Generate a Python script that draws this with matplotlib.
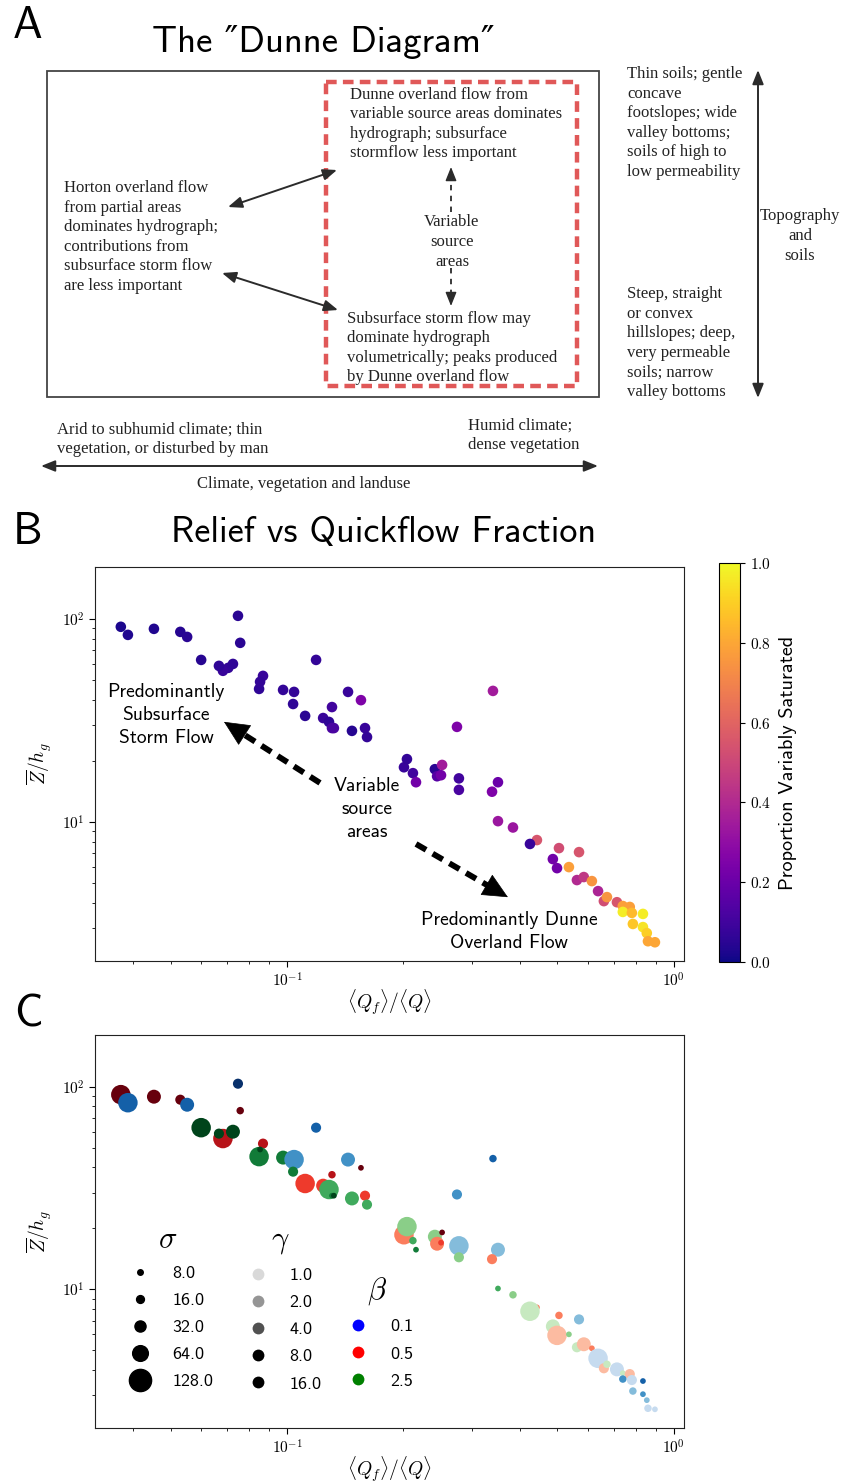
import numpy as np
import matplotlib
matplotlib.use("Agg")
import matplotlib.pyplot as plt
from matplotlib.patches import Rectangle
from matplotlib.lines import Line2D
from matplotlib.ticker import FuncFormatter, NullFormatter

plt.rcParams['font.family'] = ['cmss10', 'DejaVu Sans']
plt.rcParams['mathtext.fontset'] = 'cm'
plt.rcParams['axes.unicode_minus'] = False

# quickflow fraction <Qf>/<Q>
qf_ratio = [0.0372, 0.0388, 0.0453, 0.0530, 0.0552, 0.0747, 0.0757, 0.0600,
            0.0705, 0.0683, 0.0667, 0.0725, 0.0867, 0.0847, 0.0852, 0.0977,
            0.1043, 0.1037, 0.1189, 0.1114, 0.1240, 0.1284, 0.1307, 0.1322,
            0.1307, 0.1438, 0.1553, 0.1472, 0.1591, 0.1610, 0.3407, 0.2750,
            0.2006, 0.2042, 0.2116, 0.2155, 0.2411, 0.2517, 0.2443, 0.2501,
            0.2782, 0.2782, 0.3510, 0.3388, 0.3510, 0.3838, 0.4426, 0.4246,
            0.5046, 0.5686, 0.4866, 0.4988, 0.5354, 0.5615, 0.5850, 0.6138,
            0.6368, 0.6592, 0.6714, 0.7125, 0.7379, 0.7691, 0.7379, 0.7787,
            0.8318, 0.7834, 0.8318, 0.8511, 0.8570, 0.8933]
# relief Z/h_g
relief = [91.4, 83.4, 89.3, 86.3, 81.5, 103.5, 76.2, 62.8,
          57.4, 55.5, 58.7, 60.0, 52.4, 45.2, 49.0, 44.7,
          43.7, 38.1, 62.8, 33.3, 32.5, 31.1, 29.0, 29.0,
          36.8, 43.7, 39.8, 28.1, 29.0, 26.2, 44.2, 29.4,
          18.6, 20.4, 17.4, 15.7, 18.2, 19.1, 16.8, 17.0,
          16.4, 14.4, 15.7, 14.1, 10.1, 9.4, 8.15, 7.8,
          7.44, 7.11, 6.57, 5.93, 6.0, 5.18, 5.36, 5.12,
          4.57, 4.08, 4.27, 4.03, 3.86, 3.82, 3.61, 3.57,
          3.53, 3.15, 3.04, 2.84, 2.59, 2.56]
# proportion variably saturated
prop_sat = [0.02, 0.03, 0.03, 0.04, 0.05, 0.05, 0.05, 0.04,
            0.07, 0.08, 0.06, 0.06, 0.08, 0.06, 0.07, 0.07,
            0.07, 0.06, 0.07, 0.05, 0.08, 0.06, 0.12, 0.12,
            0.10, 0.08, 0.25, 0.04, 0.08, 0.07, 0.35, 0.25,
            0.08, 0.07, 0.10, 0.22, 0.05, 0.35, 0.15, 0.22,
            0.10, 0.12, 0.20, 0.25, 0.33, 0.33, 0.55, 0.08,
            0.52, 0.55, 0.22, 0.22, 0.78, 0.40, 0.45, 0.75,
            0.38, 0.52, 0.75, 0.55, 0.78, 0.78, 0.97, 0.85,
            0.97, 0.88, 0.95, 0.90, 0.80, 0.80]
sigma = [128, 128, 64, 32, 64, 32, 16, 128,
         32, 128, 32, 64, 32, 128, 8, 64,
         128, 32, 32, 128, 64, 128, 8, 8,
         16, 64, 8, 64, 32, 32, 16, 32,
         128, 128, 16, 8, 64, 8, 64, 8,
         128, 32, 64, 32, 8, 16, 8, 128,
         16, 32, 64, 128, 8, 32, 64, 8,
         128, 32, 16, 64, 8, 32, 16, 32,
         8, 16, 8, 8, 16, 8]
gamma = [16, 8, 16, 16, 8, 16, 16, 16,
         8, 8, 16, 16, 8, 8, 16, 8,
         4, 8, 8, 4, 4, 4, 8, 16,
         8, 4, 16, 4, 4, 4, 8, 4,
         2, 2, 4, 8, 2, 16, 2, 4,
         2, 2, 2, 2, 4, 2, 2, 1,
         2, 2, 1, 1, 2, 1, 1, 2,
         1, 1, 1, 1, 1, 1, 4, 1,
         8, 2, 4, 2, 1, 1]
beta = [0.5, 0.1, 0.5, 0.5, 0.1, 0.1, 0.5, 2.5,
        0.5, 0.5, 2.5, 2.5, 0.5, 2.5, 2.5, 2.5,
        0.1, 2.5, 0.1, 0.5, 0.5, 2.5, 2.5, 2.5,
        0.5, 0.1, 0.5, 2.5, 0.5, 2.5, 0.1, 0.1,
        0.5, 2.5, 2.5, 2.5, 2.5, 0.5, 0.5, 0.5,
        0.1, 2.5, 0.1, 0.5, 2.5, 2.5, 0.5, 2.5,
        0.5, 0.1, 2.5, 0.5, 2.5, 2.5, 0.5, 0.5,
        0.1, 0.5, 2.5, 0.1, 2.5, 0.5, 0.1, 0.1,
        0.1, 0.1, 0.1, 0.1, 0.1, 0.1]

sigma_levels = [8, 16, 32, 64, 128]
gamma_levels = [1, 2, 4, 8, 16]
beta_levels = [0.1, 0.5, 2.5]
beta_colors = ['blue', 'red', 'green']
beta_cmaps = {0.1: plt.cm.Blues, 0.5: plt.cm.Reds, 2.5: plt.cm.Greens}

W, H = 847, 1484
fig = plt.figure(figsize=(W / 100, H / 100), dpi=100)


def box(left, top, right, bottom):
    return [left / W, 1 - bottom / H, (right - left) / W, (bottom - top) / H]


# ---------------- panel A: the Dunne diagram ----------------
ax_a = fig.add_axes([0, 1 - 500 / H, 1, 500 / H])
ax_a.set_xlim(0, W)
ax_a.set_ylim(500, 0)
ax_a.axis('off')

serif = dict(family='Liberation Serif', fontsize=12, color='#222222', linespacing=1.3)
ax_a.add_patch(Rectangle((47, 71), 552, 326, fill=False, ec='#444444', lw=1.3))
ax_a.add_patch(Rectangle((326, 82), 251, 304, fill=False, ec='#e05858', lw=3.2,
                         ls=(0, (2.4, 1.4))))

ax_a.text(350, 124, "Dunne overland flow from\nvariable source areas dominates\n"
          "hydrograph; subsurface\nstormflow less important", va='center', **serif)
ax_a.text(452, 242, "Variable\nsource\nareas", ha='center', va='center',
          multialignment='center', **serif)
ax_a.text(347, 348, "Subsurface storm flow may\ndominate hydrograph\n"
          "volumetrically; peaks produced\nby Dunne overland flow", va='center', **serif)
ax_a.text(64, 237, "Horton overland flow\nfrom partial areas\ndominates hydrograph;\n"
          "contributions from\nsubsurface storm flow\nare less important", va='center', **serif)
ax_a.text(627, 123, "Thin soils; gentle\nconcave\nfootslopes; wide\nvalley bottoms;\n"
          "soils of high to\nlow permeability", va='center', **serif)
ax_a.text(800, 236, "Topography\nand\nsoils", ha='center', va='center',
          multialignment='center', **serif)
ax_a.text(627, 343, "Steep, straight\nor convex\nhillslopes; deep,\nvery permeable\n"
          "soils; narrow\nvalley bottoms", va='center', **serif)
ax_a.text(57, 439, "Arid to subhumid climate; thin\nvegetation, or disturbed by man",
          va='center', **serif)
ax_a.text(468, 435, "Humid climate;\ndense vegetation", va='center', **serif)
ax_a.text(304, 484, "Climate, vegetation and landuse", ha='center', va='center', **serif)

dbl = dict(arrowstyle='<|-|>,head_length=0.7,head_width=0.28', color='#2b2b2b', lw=1.4,
           mutation_scale=12, shrinkA=0, shrinkB=0)
for (x0, y0), (x1, y1) in [((228, 207), (337, 170)), ((222, 273), (338, 310)),
                           ((758, 70), (758, 398)), ((41, 466), (598, 466))]:
    ax_a.annotate('', xy=(x1, y1), xytext=(x0, y0), arrowprops=dbl)

# dashed arrows around "Variable source areas"
ax_a.plot([451, 451], [212, 176], color='#2b2b2b', lw=1.3, ls=(0, (3, 3)))
ax_a.plot([451, 451], [268, 297], color='#2b2b2b', lw=1.3, ls=(0, (3, 3)))
head = dict(arrowstyle='-|>,head_length=0.7,head_width=0.28', color='#2b2b2b', lw=1.0,
            mutation_scale=12, shrinkA=0, shrinkB=0)
ax_a.annotate('', xy=(451, 167), xytext=(451, 178), arrowprops=head)
ax_a.annotate('', xy=(451, 306), xytext=(451, 295), arrowprops=head)

fig.text(28 / W, 1 - 27 / H, 'A', fontsize=32, ha='center', va='center')
fig.text(323 / W, 1 - 42 / H, 'The \u2033Dunne Diagram\u2033', fontsize=26.5,
         ha='center', va='center')

# ---------------- panel B ----------------
xlim = (0.0319, 1.062)
ylim = (2.07, 180)
pow10 = FuncFormatter(lambda v, p: r'$10^{%d}$' % int(round(np.log10(v))))

ax_b = fig.add_axes(box(95, 567, 684, 961))
sc = ax_b.scatter(qf_ratio, relief, c=prop_sat, cmap='plasma', vmin=0, vmax=1,
                  s=58, linewidths=0)
ax_b.set_xscale('log')
ax_b.set_yscale('log')
ax_b.set_xlim(xlim)
ax_b.set_ylim(ylim)
ax_b.set_xlabel(r'$\langle Q_f\rangle/\langle Q\rangle$', fontsize=14, labelpad=-2)
ax_b.set_ylabel(r'$\overline{Z}/h_g$', fontsize=14, labelpad=6)

t_kw = dict(transform=ax_b.transAxes, ha='center', va='center', fontsize=14,
            multialignment='center', linespacing=1.35)
ax_b.text(0.121, 0.624, 'Predominantly\nSubsurface\nStorm Flow', **t_kw)
ax_b.text(0.462, 0.386, 'Variable\nsource\nareas', **t_kw)
ax_b.text(0.703, 0.076, 'Predominantly Dunne\nOverland Flow', **t_kw)


def dashed_arrow(ax, tail, tip):
    tail = np.array(tail)
    tip = np.array(tip)
    d = (tip - tail) / np.hypot(*(tip - tail))
    ax.plot([tail[0], tip[0] - 0.035 * d[0]], [tail[1], tip[1] - 0.035 * d[1]],
            transform=ax.transAxes, color='k', lw=4.2, ls=(0, (2.0, 1.3)),
            solid_capstyle='butt')
    ax.annotate('', xy=tip, xytext=tip - 0.01 * d, xycoords='axes fraction',
                arrowprops=dict(arrowstyle='-|>,head_length=0.85,head_width=0.4',
                                color='k', lw=0.5, mutation_scale=20,
                                shrinkA=0, shrinkB=0))


dashed_arrow(ax_b, (0.382, 0.452), (0.219, 0.607))
dashed_arrow(ax_b, (0.545, 0.297), (0.701, 0.162))

cax = fig.add_axes(box(719, 563, 740, 962))
cb = fig.colorbar(sc, cax=cax, ticks=[0, 0.2, 0.4, 0.6, 0.8, 1.0])
cb.ax.yaxis.set_major_formatter(FuncFormatter(lambda v, p: r'$%.1f$' % v))
cb.ax.tick_params(labelsize=11)
cb.set_label('Proportion Variably Saturated', fontsize=14.5, labelpad=6)

fig.text(28 / W, 1 - 533 / H, 'B', fontsize=32, ha='center', va='center')
fig.text(384 / W, 1 - 533 / H, 'Relief vs Quickflow Fraction', fontsize=26,
         ha='center', va='center')

# ---------------- panel C ----------------
ax_c = fig.add_axes(box(95, 1035, 684, 1428))
shade = np.clip(0.25 + 0.1875 * np.log2(gamma), 0, 1)
colors_c = [beta_cmaps[b](v) for b, v in zip(beta, shade)]
ax_c.scatter(qf_ratio, relief, c=colors_c, s=1.5 * np.array(sigma) + 5, linewidths=0)
ax_c.set_xscale('log')
ax_c.set_yscale('log')
ax_c.set_xlim(xlim)
ax_c.set_ylim(ylim)
ax_c.set_xlabel(r'$\langle Q_f\rangle/\langle Q\rangle$', fontsize=14, labelpad=-2)
ax_c.set_ylabel(r'$\overline{Z}/h_g$', fontsize=14, labelpad=6)

sig_h = [Line2D([], [], marker='o', ls='', color='k', markersize=np.sqrt(2 * s),
                label='%.1f' % s) for s in sigma_levels]
gam_h = [Line2D([], [], marker='o', ls='', markersize=8.5, markeredgewidth=0,
                color=plt.cm.Greys(min(0.25 * (1 + np.log2(g)), 1.0)),
                label='%.1f' % g) for g in gamma_levels]
bet_h = [Line2D([], [], marker='o', ls='', markersize=8.5, markeredgewidth=0,
                color=c, label='%.1f' % b) for b, c in zip(beta_levels, beta_colors)]

leg_kw = dict(frameon=False, fontsize=13, title_fontsize=22, loc='upper left',
              labelspacing=0.63, handletextpad=0.78, borderaxespad=0)
leg1 = ax_c.legend(handles=sig_h, title=r'$\sigma$', bbox_to_anchor=(0.034, 0.53), **leg_kw)
ax_c.add_artist(leg1)
leg2 = ax_c.legend(handles=gam_h, title=r'$\gamma$', bbox_to_anchor=(0.233, 0.53), **leg_kw)
ax_c.add_artist(leg2)
ax_c.legend(handles=bet_h, title=r'$\beta$', bbox_to_anchor=(0.404, 0.406), **leg_kw)

fig.text(28 / W, 1 - 1015 / H, 'C', fontsize=32, ha='center', va='center')

for ax in (ax_b, ax_c):
    ax.xaxis.set_major_formatter(pow10)
    ax.yaxis.set_major_formatter(pow10)
    ax.xaxis.set_minor_formatter(NullFormatter())
    ax.yaxis.set_minor_formatter(NullFormatter())
    ax.tick_params(which='major', length=4, labelsize=11)
    ax.tick_params(which='minor', length=2.5)
    for sp in ax.spines.values():
        sp.set_color('#222222')

fig.savefig('out.png', dpi=100)
